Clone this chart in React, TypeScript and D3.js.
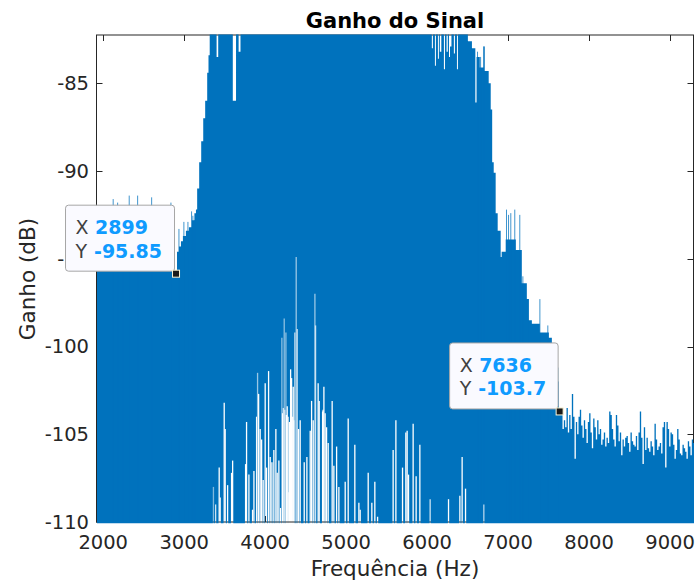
import React from 'react';
import * as d3 from 'd3';

// Canvas and plot box
const W = 695;
const H = 580;
const PLOT = { left: 96.5, right: 693.5, top: 35, bottom: 522 };

// Axis ranges and ticks
const X_DOMAIN = [1917, 9289];
const Y_DOMAIN = [-110, -82.25];
const X_TICKS = [2000, 3000, 4000, 5000, 6000, 7000, 8000, 9000];
const Y_TICKS = [-110, -105, -100, -95, -90, -85];

// Upper envelope of the spectrum (Hz, dB), held until the next breakpoint
const ENV_HZ = [
  1917, 2300, 2600, 2870, 2885, 2911, 2935, 2960, 2984, 3021, 3058, 3095, 3126, 3145,
  3160, 3185, 3210, 3235, 3259, 3284, 3300, 3315, 3400, 3420, 3600, 3640, 3672, 3695,
  6058, 6071, 6096, 6108, 6133, 6145, 6157, 6175, 6207, 6220, 6240, 6255, 6270, 6282,
  6300, 6330, 6343, 6368, 6380, 6503, 6553, 6595, 6610, 6650, 6695, 6710, 6760, 6785,
  6803, 6822, 6846, 6871, 6908, 6920, 6970, 7095, 7169, 7231, 7256, 7293, 7392, 7503,
  7540, 7590, 7614, 7625,
];
const ENV_DB = [
  -93.0, -93.3, -92.9, -93.8, -95.85, -94.6, -94.3, -94.0, -93.7, -93.4, -93.2, -92.8, -92.4, -92.2,
  -91.0, -89.5, -88.3, -87.0, -86.0, -84.4, -83.4, -80, -83.5, -80, -86.0, -80, -83.2, -80,
  -83.0, -80, -84.0, -80, -83.6, -80, -83.2, -80, -84.2, -80, -83.2, -80, -83.5, -82.9,
  -80, -83.3, -80, -84.2, -80, -82.6, -83.0, -86.1, -83.5, -84.1, -82.9, -84.3, -85.0, -86.5,
  -89.5, -90.1, -92.4, -93.4, -94.9, -94.6, -93.9, -94.5, -96.4, -97.3, -98.5, -98.7, -99.2, -99.5,
  -100.7, -101.5, -102.0, -103.7,
];

// High-frequency tail, one value per FFT bin
const TAIL_START_HZ = 7655;
const TAIL_BIN_HZ = 16.46;
const TAIL_DB = [
  -103.8, -104.7, -104.2, -104.6, -103.5, -104.9, -103.9, -104.7, -102.7, -104.0,
  -106.4, -104.3, -105.0, -104.0, -103.6, -104.5, -105.2, -104.2, -104.7, -105.5,
  -104.3, -103.8, -104.9, -105.8, -104.1, -104.6, -105.3, -104.2, -105.0, -104.7,
  -105.6, -105.3, -104.9, -105.7, -105.2, -105.5, -103.7, -103.9, -104.7, -105.3,
  -105.7, -103.9, -104.5, -105.4, -104.9, -106.2, -105.3, -105.7, -105.2, -105.1,
  -105.5, -106.0, -104.9, -105.4, -105.6, -105.7, -105.1, -105.9, -104.9, -103.7,
  -105.2, -106.7, -104.6, -105.9, -105.2, -105.8, -106.0, -105.4, -105.7, -106.2,
  -104.4, -105.3, -105.9, -105.7, -105.5, -106.1, -104.6, -104.3, -106.9, -104.3,
  -104.7, -105.7, -104.9, -105.0, -105.6, -106.4, -105.9, -104.7, -105.3, -106.1,
  -106.2, -105.6, -105.8, -106.0, -106.4, -105.4, -105.7, -106.2, -105.3, -105.5,
  -105.7,
];

// Isolated narrow peaks standing above the envelope
const PEAK_HZ = [
  2123, 2178, 2245, 2321, 2425, 2598, 2836, 2935, 2996, 3046, 3091, 3107, 3132,
  6622, 6660, 6701, 6980, 7005, 7033, 7082, 7144, 7182, 7245, 7392, 7490, 7615,
];
const PEAK_DB = [
  -91.6, -91.8, -92.3, -91.4, -91.4, -91.5, -91.8, -93.3, -92.9, -92.9, -92.3, -92.55, -92.8,
  -83.2, -83.5, -82.9, -92.2, -92.5, -92.4, -92.2, -92.5, -96.0, -97.3, -97.3, -98.8, -101.2,
];

// Lower envelope: bins whose minimum stays above the floor (Hz, dB, opacity)
const TROUGH_HZ = [
  3361, 3388, 3432, 3444, 3494, 3506, 3536, 3585, 3598, 3758, 3770, 3799, 3844, 3861,
  3894, 3906, 3919, 3938, 3956, 3975, 4000, 4017, 4042, 4062, 4083, 4107, 4132, 4148,
  4169, 4190, 4206, 4215, 4225, 4235, 4245, 4256, 4262, 4272, 4282, 4293, 4300, 4314,
  4326, 4340, 4346, 4355, 4367, 4383, 4395, 4412, 4432, 4482, 4515, 4556, 4573, 4593,
  4614, 4622, 4654, 4667, 4709, 4715, 4725, 4740, 4758, 4778, 4827, 4848, 4882, 4910,
  4988, 5025, 5107, 5157, 5173, 5272, 5317, 5354, 5388, 5580, 5614, 5696, 5737, 5753,
  5770, 5827, 5864, 5910, 6037, 6264, 6404, 6432, 6474, 6700,
];
const TROUGH_DB = [
  -108.0, -109.0, -106.9, -108.6, -103.2, -104.7, -107.9, -107.2, -106.5, -106.7, -104.3, -107.3, -109.3, -107.1,
  -104.0, -101.5, -102.7, -104.7, -105.3, -107.6, -102.1, -106.9, -101.4, -106.3, -106.6, -105.9, -104.7, -107.2,
  -106.5, -109.2, -99.5, -103.8, -103.5, -98.4, -103.6, -99.2, -103.9, -103.4, -104.0, -108.3, -104.3, -101.3,
  -101.8, -104.0, -102.3, -104.2, -99.2, -94.9, -99.0, -104.7, -104.2, -106.6, -106.3, -104.8, -103.1, -104.2,
  -97.0, -98.8, -102.1, -103.1, -103.7, -103.6, -102.3, -103.8, -104.6, -105.5, -103.1, -106.8, -105.7, -108.0,
  -107.7, -104.1, -105.6, -108.9, -109.3, -107.2, -108.9, -107.7, -109.7, -105.9, -104.2, -106.9, -104.9, -104.8,
  -107.3, -104.4, -107.4, -105.6, -108.7, -108.7, -108.5, -106.3, -108.1, -109.0,
];
const TROUGH_ALPHA = [
  0.5, 0.8, 1, 1, 1, 1, 1, 1, 1, 1, 1, 1, 1, 1,
  1, 0.6, 1, 1, 1, 1, 1, 1, 1, 1, 1, 1, 1, 1,
  1, 1, 0.55, 1, 1, 0.55, 1, 0.55, 1, 1, 1, 1, 1, 1,
  1, 1, 1, 1, 0.8, 0.6, 0.8, 1, 1, 1, 1, 1, 1, 1,
  0.6, 0.8, 1, 1, 1, 1, 1, 1, 1, 1, 1, 1, 1, 1,
  1, 1, 1, 1, 1, 1, 1, 1, 1, 1, 1, 1, 1, 1,
  1, 1, 1, 1, 0.8, 1, 1, 1, 1, 0.7,
];

// Data tips
const TIP_HZ = [2899, 7636];
const TIP_DB = [-95.85, -103.7];
const TIP_WIDTH = [109, 108.5];

const BLUE = '#0072BD';
const AXIS = '#262626';
const TIP_BLUE = '#0f9bff';
const FONT = '"DejaVu Sans", sans-serif';

export default function App() {
  const x = d3.scaleLinear().domain(X_DOMAIN).range([PLOT.left, PLOT.right]);
  const y = d3.scaleLinear().domain(Y_DOMAIN).range([PLOT.bottom, PLOT.top]);

  const spectrum: [number, number][] = [
    ...ENV_HZ.map((hz, i) => [hz, ENV_DB[i]] as [number, number]),
    ...TAIL_DB.map((db, i) => [TAIL_START_HZ + i * TAIL_BIN_HZ, db] as [number, number]),
  ];

  const area = d3
    .area<[number, number]>()
    .x((d) => x(d[0]))
    .y0(PLOT.bottom + 1.5)
    .y1((d) => y(d[1]))
    .curve(d3.curveStepAfter);

  const midX = (PLOT.left + PLOT.right) / 2;
  const tick = 6;

  return (
    <svg
      width={W}
      height={H}
      viewBox={`0 0 ${W} ${H}`}
      style={{ position: 'absolute', left: 0, top: 0, background: '#fff' }}
      fontFamily={FONT}
    >
      <defs>
        <clipPath id="plot-clip">
          <rect x={PLOT.left + 0.5} y={PLOT.top - 0.5} width={PLOT.right - PLOT.left} height={PLOT.bottom - PLOT.top + 2} />
        </clipPath>
        <mask id="trough-mask" maskUnits="userSpaceOnUse" x={0} y={0} width={W} height={H}>
          <rect x={0} y={0} width={W} height={H} fill="#fff" />
          {TROUGH_HZ.map((hz, i) => {
            const g = Math.round(255 * (1 - TROUGH_ALPHA[i]));
            return (
              <line
                key={i}
                x1={x(hz)}
                x2={x(hz)}
                y1={PLOT.bottom + 3}
                y2={y(TROUGH_DB[i])}
                stroke={`rgb(${g},${g},${g})`}
                strokeWidth={1.3}
              />
            );
          })}
        </mask>
      </defs>

      {/* axes box and inward ticks */}
      <g stroke={AXIS} strokeWidth={1} fill="none">
        <rect x={PLOT.left} y={PLOT.top} width={PLOT.right - PLOT.left} height={PLOT.bottom - PLOT.top} />
        {X_TICKS.map((t) => (
          <g key={t}>
            <line x1={Math.round(x(t)) + 0.5} x2={Math.round(x(t)) + 0.5} y1={PLOT.bottom} y2={PLOT.bottom - tick} />
            <line x1={Math.round(x(t)) + 0.5} x2={Math.round(x(t)) + 0.5} y1={PLOT.top} y2={PLOT.top + tick} />
          </g>
        ))}
        {Y_TICKS.map((t) => (
          <g key={t}>
            <line x1={PLOT.left} x2={PLOT.left + tick} y1={Math.round(y(t)) + 0.5} y2={Math.round(y(t)) + 0.5} />
            <line x1={PLOT.right} x2={PLOT.right - tick} y1={Math.round(y(t)) + 0.5} y2={Math.round(y(t)) + 0.5} />
          </g>
        ))}
      </g>

      {/* spectrum */}
      <g clipPath="url(#plot-clip)">
        <g mask="url(#trough-mask)">
          <path d={area(spectrum) || ''} fill={BLUE} />
          {PEAK_HZ.map((hz, i) => (
            <line
              key={i}
              x1={x(hz)}
              x2={x(hz)}
              y1={PLOT.bottom}
              y2={y(PEAK_DB[i])}
              stroke={BLUE}
              strokeOpacity={0.75}
              strokeWidth={1}
            />
          ))}
        </g>
      </g>

      {/* tick labels */}
      <g fill={AXIS} fontSize={19.5}>
        {X_TICKS.map((t) => (
          <text key={t} x={x(t)} y={549} textAnchor="middle">
            {t}
          </text>
        ))}
        {Y_TICKS.map((t) => (
          <text key={t} x={PLOT.left - 7.5} y={y(t)} dy="0.35em" textAnchor="end">
            {t}
          </text>
        ))}
      </g>

      {/* labels and title */}
      <text x={midX} y={576} textAnchor="middle" fontSize={21.5} fill={AXIS}>
        Frequência (Hz)
      </text>
      <text transform={`translate(35,279) rotate(-90)`} textAnchor="middle" fontSize={21.5} fill={AXIS}>
        Ganho (dB)
      </text>
      <text x={midX} y={28} textAnchor="middle" fontSize={21} fontWeight="bold" fill="#000">
        Ganho do Sinal
      </text>

      {/* data tips */}
      {TIP_HZ.map((hz, i) => {
        const px = x(hz);
        const py = y(TIP_DB[i]);
        const w = TIP_WIDTH[i];
        const h = 66;
        const bx = px - 1.5 - w;
        const by = py - 2.5 - h;
        return (
          <g key={hz}>
            <rect x={bx} y={by} width={w} height={h} rx={3} fill="#fafaff" stroke="#a6a6a6" strokeWidth={1} />
            <text x={bx + 10} y={by + 29} fontSize={19} fill="#404040">
              X
            </text>
            <text x={bx + 29.5} y={by + 29} fontSize={19} fontWeight="bold" fill={TIP_BLUE}>
              {hz}
            </text>
            <text x={bx + 10} y={by + 52.5} fontSize={19} fill="#404040">
              Y
            </text>
            <text x={bx + 28.5} y={by + 52.5} fontSize={19} fontWeight="bold" fill={TIP_BLUE}>
              {TIP_DB[i]}
            </text>
            <rect x={px - 3.5} y={py - 3.5} width={7} height={7} fill="#1a1a1a" stroke="#fff6d5" strokeWidth={1} />
          </g>
        );
      })}
    </svg>
  );
}
